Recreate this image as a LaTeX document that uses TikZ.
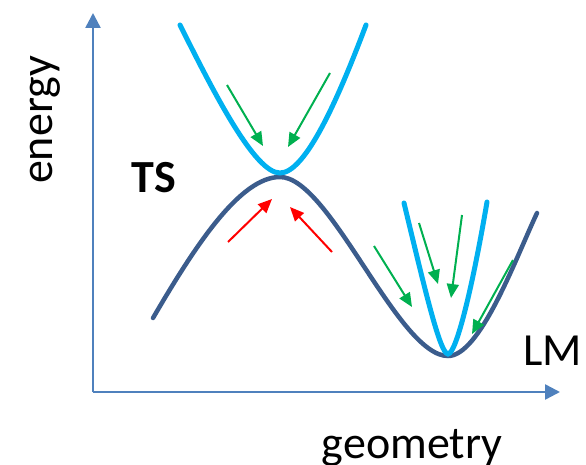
\documentclass[tikz,border=0pt]{standalone}
\usepackage{xcolor}
\usepackage{fontspec}
\setmainfont{Carlito}
\usepackage{tikz}
\usetikzlibrary{arrows.meta}

\definecolor{axisblue}{RGB}{79,129,189}
\definecolor{darkpes}{RGB}{59,92,140}
\definecolor{lightpes}{RGB}{0,176,240}
\definecolor{optgreen}{RGB}{0,176,80}
\definecolor{optred}{RGB}{255,0,0}

\begin{document}
\begin{tikzpicture}[
    x=1pt, y=-1pt,
    label/.style={font=\fontsize{46}{50}\selectfont, inner sep=0pt, anchor=base},
    axis/.style={-{Triangle[length=15pt,width=15pt]}, line width=2.5pt, draw=axisblue},
    lower/.style={line width=4.5pt, draw=darkpes, line cap=round},
    upper/.style={line width=5pt, draw=lightpes, line cap=round},
    garrow/.style={-{Triangle[length=14pt,width=12pt]}, line width=2pt, draw=optgreen, fill=optgreen},
    rarrow/.style={-{Triangle[length=14pt,width=12pt]}, line width=2pt, draw=optred, fill=optred},
]
\useasboundingbox (0,0) rectangle (586,465);

% Axes
\coordinate (origin) at (93,392);
\coordinate (ytip) at (93,13);
\coordinate (xtip) at (560,392);
\draw[axis] (origin) -- (ytip);
\draw[axis] (origin) -- (xtip);

% Labels
\node[label, rotate=90] (energy) at (52,120) {energy};
\node[label] (geometry) at (412,458) {geometry};
\node[label] (lm) at (553,365) {LM};
\node[label, font=\fontsize{46}{50}\selectfont\bfseries] (ts) at (154,193) {TS};

% Lower surface
\draw[lower] (153,318) .. controls (195,246) and (240,177) .. (280,177)
    .. controls (330,177) and (398,356) .. (448,356)
    .. controls (480,356) and (515,260) .. (537,213);

% Upper surface at TS
\draw[upper] (180,25) .. controls (215,95) and (255,173) .. (280,173)
    .. controls (305,173) and (337,102) .. (366,25);

% Upper surface at LM
\draw[upper] (404,203) .. controls (425,290) and (440,354) .. (448,354)
    .. controls (456,354) and (472,290) .. (487,202);

% Arrows towards TS
\coordinate (g1s) at (227,85);  \coordinate (g1e) at (263,146);
\coordinate (g2s) at (330,73);  \coordinate (g2e) at (288,147);
\coordinate (r1s) at (228,242); \coordinate (r1e) at (272,199);
\coordinate (r2s) at (332,252); \coordinate (r2e) at (290,207);
\draw[garrow] (g1s) -- (g1e);
\draw[garrow] (g2s) -- (g2e);
\draw[rarrow] (r1s) -- (r1e);
\draw[rarrow] (r2s) -- (r2e);

% Arrows towards LM
\coordinate (g3s) at (374,246); \coordinate (g3e) at (412,307);
\coordinate (g4s) at (419,223); \coordinate (g4e) at (438,284);
\coordinate (g5s) at (462,215); \coordinate (g5e) at (451,298);
\coordinate (g6s) at (513,260); \coordinate (g6e) at (472,334);
\draw[garrow] (g3s) -- (g3e);
\draw[garrow] (g4s) -- (g4e);
\draw[garrow] (g5s) -- (g5e);
\draw[garrow] (g6s) -- (g6e);

\end{tikzpicture}
\end{document}
